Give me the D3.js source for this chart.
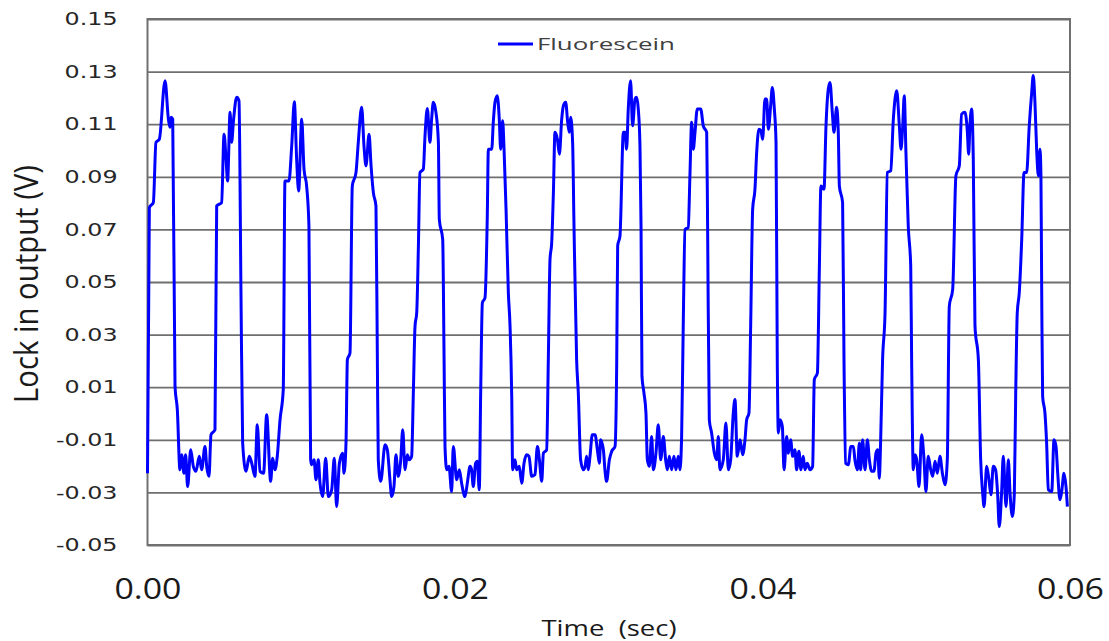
<!DOCTYPE html>
<html>
<head>
<meta charset="utf-8">
<script src="https://cdn.jsdelivr.net/npm/d3@7"></script>
<style>
  html, body { margin: 0; padding: 0; background: #ffffff; }
  svg { display: block; }
</style>
</head>
<body>
<svg id="chart" width="1109" height="641"></svg>
<script>
// Lock-in amplifier output for the fluorescein sample, sampled over 60 ms.
const seriesName = "Fluorescein";

// Sample times in milliseconds
const timeMs = [
  0.00, 0.12, 0.38, 0.55, 0.77, 1.14, 1.36, 1.46, 1.53, 1.64, 1.79, 1.94, 2.11, 2.22, 2.37, 2.48, 2.61, 2.81, 2.98, 3.15,
  3.37, 3.52, 3.74, 3.85, 4.00, 4.13, 4.39, 4.50, 4.82, 4.98, 5.11, 5.21, 5.37, 5.47, 5.60, 5.80, 5.95, 6.08, 6.19, 6.41,
  6.62, 6.78, 6.99, 7.14, 7.32, 7.55, 7.75, 8.01, 8.14, 8.29, 8.44, 8.62, 8.83, 8.94, 9.20, 9.38, 9.55, 9.70, 9.83, 10.03,
  10.18, 10.35, 10.50, 10.61, 10.68, 10.83, 10.96, 11.11, 11.22, 11.39, 11.59, 11.76, 11.98, 12.15, 12.30, 12.48, 12.69, 12.78, 12.91, 13.00,
  13.17, 13.32, 13.56, 13.71, 13.93, 14.08, 14.21, 14.41, 14.54, 14.69, 14.86, 14.95, 15.01, 15.17, 15.45, 15.60, 15.77, 15.88, 16.03, 16.16,
  16.31, 16.47, 16.60, 16.75, 16.90, 17.03, 17.18, 17.29, 17.40, 17.51, 17.62, 17.72, 17.94, 18.05, 18.20, 18.37, 18.48, 18.59, 18.76, 18.92,
  18.98, 19.20, 19.29, 19.35, 19.46, 19.61, 19.78, 19.89, 20.11, 20.28, 20.43, 20.65, 20.80, 20.98, 21.08, 21.19, 21.34, 21.45, 21.58, 21.67,
  21.78, 21.95, 22.10, 22.17, 22.39, 22.49, 22.60, 22.75, 22.88, 22.97, 23.10, 23.19, 23.32, 23.47, 23.58, 23.69, 23.75, 23.90, 24.01, 24.18,
  24.34, 24.49, 24.66, 24.81, 24.99, 25.20, 25.36, 25.49, 25.64, 25.75, 25.96, 26.07, 26.18, 26.29, 26.40, 26.50, 26.66, 26.79, 26.94, 27.05,
  27.20, 27.33, 27.44, 27.52, 27.65, 27.74, 27.91, 28.02, 28.17, 28.35, 28.46, 28.56, 28.67, 28.78, 28.93, 29.11, 29.26, 29.39, 29.47, 29.65,
  29.76, 29.86, 30.04, 30.19, 30.41, 30.52, 30.58, 30.73, 30.95, 31.06, 31.16, 31.27, 31.42, 31.55, 31.71, 31.81, 31.92, 32.03, 32.10, 32.16,
  32.29, 32.42, 32.51, 32.64, 32.79, 32.90, 33.07, 33.22, 33.38, 33.55, 33.70, 33.81, 33.94, 34.09, 34.24, 34.37, 34.52, 34.63, 34.74, 34.85,
  34.96, 35.17, 35.28, 35.39, 35.50, 35.61, 35.76, 35.98, 36.15, 36.37, 36.43, 36.54, 36.69, 36.87, 37.02, 37.13, 37.23, 37.45, 37.62, 37.78,
  37.93, 38.10, 38.21, 38.36, 38.54, 38.71, 38.86, 38.97, 39.12, 39.23, 39.36, 39.51, 39.62, 39.77, 39.90, 40.01, 40.16, 40.27, 40.38, 40.53,
  40.64, 40.77, 40.88, 40.96, 41.03, 41.14, 41.29, 41.40, 41.57, 41.68, 41.83, 41.96, 42.11, 42.22, 42.37, 42.50, 42.65, 42.76, 42.91, 43.09,
  43.26, 43.37, 43.57, 43.70, 43.80, 44.00, 44.13, 44.28, 44.39, 44.54, 44.65, 44.82, 44.93, 45.00, 45.21, 45.30, 45.41, 45.58, 45.75, 45.91,
  46.01, 46.17, 46.30, 46.38, 46.51, 46.67, 46.82, 46.95, 47.10, 47.25, 47.38, 47.49, 47.60, 47.68, 47.81, 47.97, 48.12, 48.34, 48.51, 48.73,
  48.90, 49.01, 49.12, 49.22, 49.33, 49.48, 49.64, 49.70, 49.81, 49.92, 50.03, 50.18, 50.35, 50.50, 50.63, 50.78, 50.94, 51.07, 51.22, 51.37,
  51.54, 51.70, 51.87, 52.02, 52.15, 52.37, 52.58, 52.80, 52.95, 53.17, 53.32, 53.41, 53.49, 53.60, 53.71, 53.82, 54.04, 54.19, 54.32, 54.41,
  54.58, 54.73, 54.86, 55.01, 55.16, 55.29, 55.40, 55.55, 55.66, 55.84, 55.99, 56.10, 56.25, 56.38, 56.47, 56.57, 56.70, 56.86, 57.01, 57.18,
  57.35, 57.51, 57.61, 57.72, 57.83, 57.94, 58.05, 58.11, 58.16, 58.22, 58.37, 58.48, 58.59, 58.81, 58.96, 59.09, 59.20, 59.35, 59.46, 59.61,
  59.74, 59.83
];

// Lock-in output in volts, one value per sample time
const lockIn = [
  -0.0227, 0.0783, 0.0802, 0.1031, 0.1043, 0.1265, 0.1119, 0.1088, 0.1126, 0.1119, 0.0103, 0.0015, -0.0214, -0.0157, -0.0227, -0.0157, -0.0278, -0.0138, -0.0201, -0.0220,
  -0.0163, -0.0214, -0.0125, -0.0201, -0.0239, -0.0081, -0.0062, 0.0789, 0.0802, 0.1062, 0.0967, 0.0884, 0.1145, 0.1031, 0.1119, 0.1202, 0.1189, 0.0459, -0.0113, -0.0220,
  -0.0163, -0.0189, -0.0239, -0.0043, -0.0220, -0.0227, -0.0005, -0.0258, -0.0170, -0.0214, -0.0163, -0.0024, 0.0091, 0.0884, 0.0884, 0.1018, 0.1185, 0.0967, 0.0846, 0.1119,
  0.0929, 0.0865, 0.0713, -0.0176, -0.0195, -0.0176, -0.0252, -0.0176, -0.0265, -0.0316, -0.0170, -0.0316, -0.0290, -0.0170, -0.0354, -0.0189, -0.0151, -0.0227, -0.0113, 0.0205,
  0.0230, 0.0865, 0.0916, 0.1031, 0.1164, 0.1018, 0.0942, 0.1062, 0.0942, 0.0840, 0.0789, 0.0205, -0.0176, -0.0258, -0.0119, -0.0138, -0.0252, -0.0316, -0.0278, -0.0157,
  -0.0239, -0.0176, -0.0062, -0.0214, -0.0157, -0.0176, -0.0163, 0.0078, 0.0332, 0.0383, 0.0637, 0.0916, 0.0929, 0.1056, 0.1160, 0.1031, 0.1119, 0.1183, 0.1145, 0.1031,
  0.0738, 0.0662, 0.0205, -0.0125, -0.0214, -0.0201, -0.0297, -0.0125, -0.0252, -0.0214, -0.0265, -0.0316, -0.0265, -0.0201, -0.0214, -0.0278, -0.0189, -0.0182, -0.0290, 0.0078,
  0.0421, 0.0440, 0.0751, 0.1005, 0.1005, 0.1107, 0.1183, 0.1208, 0.1119, 0.1005, 0.1113, 0.1005, 0.0777, 0.0459, 0.0332, 0.0065, -0.0214, -0.0176, -0.0214, -0.0201,
  -0.0265, -0.0189, -0.0157, -0.0163, -0.0239, -0.0233, -0.0125, -0.0176, -0.0258, -0.0151, -0.0138, 0.0205, 0.0586, 0.0650, 0.0840, 0.1069, 0.1043, 0.0986, 0.1119, 0.1170,
  0.1183, 0.1107, 0.1069, 0.1126, 0.1031, 0.0713, 0.0205, 0.0078, -0.0176, -0.0214, -0.0201, -0.0163, -0.0214, -0.0163, -0.0081, -0.0081, -0.0138, -0.0189, -0.0100, -0.0138,
  -0.0220, -0.0258, -0.0176, -0.0144, -0.0125, 0.0205, 0.0637, 0.0675, 0.1069, 0.1069, 0.1005, 0.1158, 0.1265, 0.1094, 0.1196, 0.1202, 0.1158, 0.1018, 0.0713, 0.0142,
  0.0078, 0.0002, -0.0176, -0.0201, -0.0087, -0.0214, -0.0151, -0.0043, -0.0176, -0.0087, -0.0176, -0.0214, -0.0163, -0.0214, -0.0163, -0.0214, -0.0163, -0.0214, -0.0087, 0.0357,
  0.0700, 0.0707, 0.0904, 0.1107, 0.1005, 0.1069, 0.1158, 0.1158, 0.1094, 0.1069, 0.0713, -0.0024, -0.0074, -0.0151, -0.0176, -0.0087, -0.0214, -0.0176, -0.0036, -0.0214,
  -0.0176, 0.0002, 0.0053, -0.0163, -0.0100, -0.0157, -0.0100, -0.0024, 0.0002, 0.0332, 0.0777, 0.0853, 0.0992, 0.1081, 0.1075, 0.1043, 0.1196, 0.1196, 0.1081, 0.1170,
  0.1240, 0.1158, 0.1031, 0.0205, -0.0074, -0.0024, -0.0049, -0.0214, -0.0087, -0.0151, -0.0100, -0.0163, -0.0138, -0.0214, -0.0144, -0.0214, -0.0163, -0.0214, -0.0189, -0.0214,
  -0.0201, 0.0129, 0.0154, 0.0561, 0.0865, 0.0853, 0.1094, 0.1234, 0.1259, 0.1145, 0.1069, 0.1164, 0.1069, 0.0865, 0.0802, 0.0205, -0.0189, -0.0195, -0.0125, -0.0125,
  -0.0176, -0.0214, -0.0113, -0.0214, -0.0100, -0.0214, -0.0100, -0.0176, -0.0220, -0.0220, -0.0151, -0.0138, -0.0246, -0.0113, 0.0205, 0.0383, 0.0916, 0.0923, 0.1119, 0.1227,
  0.1094, 0.1005, 0.1094, 0.1208, 0.0992, 0.0713, 0.0561, 0.0205, -0.0214, -0.0157, -0.0176, -0.0278, -0.0081, -0.0170, -0.0297, -0.0163, -0.0214, -0.0239, -0.0182, -0.0227,
  -0.0163, -0.0227, -0.0271, -0.0176, 0.0408, 0.0472, 0.0904, 0.0942, 0.1138, 0.1145, 0.1075, 0.0986, 0.1094, 0.1158, 0.0967, 0.0332, 0.0205, -0.0176, -0.0303, -0.0354,
  -0.0201, -0.0252, -0.0309, -0.0201, -0.0214, -0.0303, -0.0430, -0.0303, -0.0163, -0.0354, -0.0176, -0.0303, -0.0392, -0.0303, 0.0078, 0.0383, 0.0459, 0.0662, 0.0916, 0.0916,
  0.1094, 0.1221, 0.1285, 0.1183, 0.1005, 0.0904, 0.1005, 0.0904, 0.0459, 0.0065, 0.0002, -0.0113, -0.0290, -0.0297, -0.0100, -0.0125, -0.0227, -0.0328, -0.0297, -0.0227,
  -0.0278, -0.0354
];

// Axis ticks
const xTicks = [0, 0.02, 0.04, 0.06];
const yTicks = [-0.05, -0.03, -0.01, 0.01, 0.03, 0.05, 0.07, 0.09, 0.11, 0.13, 0.15];
const xTitle = "Time  (sec)";
const yTitle = "Lock in output (V)";

const data = timeMs.map((t, i) => ({ t: t / 1000, v: lockIn[i] }));

const svg = d3.select("#chart");
const plot = { left: 147.5, right: 1070, top: 19, bottom: 545 };

const x = d3.scaleLinear().domain([0, 0.06]).range([plot.left, plot.right]);
const y = d3.scaleLinear().domain([-0.05, 0.15]).range([plot.bottom, plot.top]);

// Two-decimal labels with a plain hyphen for negatives
const fmt2 = d => d.toFixed(2);

// Widen glyphs horizontally to the wide lettering of the figure
function widen(sel, factor) {
  sel.each(function () {
    const n = this.getComputedTextLength();
    this.setAttribute("textLength", (n * factor).toFixed(1));
    this.setAttribute("lengthAdjust", "spacingAndGlyphs");
  });
}

// Horizontal gridlines
const grid = svg.append("g")
  .attr("transform", `translate(${plot.left},0)`)
  .call(d3.axisLeft(y).tickValues(yTicks).tickSize(-(plot.right - plot.left)).tickFormat(""));
grid.select(".domain").remove();
grid.selectAll("line").attr("stroke", "#6f6f6f").attr("stroke-width", 1.8);

// Plot frame
svg.append("rect")
  .attr("x", plot.left).attr("y", plot.top)
  .attr("width", plot.right - plot.left).attr("height", plot.bottom - plot.top)
  .attr("fill", "none").attr("stroke", "#707070").attr("stroke-width", 2);

// Y tick labels
const yAxis = svg.append("g")
  .attr("transform", `translate(${plot.left},0)`)
  .call(d3.axisLeft(y).tickValues(yTicks).tickSize(0).tickPadding(30).tickFormat(fmt2));
yAxis.select(".domain").remove();
yAxis.selectAll("text")
  .attr("font-family", "DejaVu Sans")
  .attr("font-size", 18)
  .attr("fill", "#262626");
widen(yAxis.selectAll("text"), 1.32);

// X tick labels
const xAxis = svg.append("g")
  .attr("transform", `translate(0,${plot.bottom})`)
  .call(d3.axisBottom(x).tickValues(xTicks).tickSize(0).tickPadding(0).tickFormat(fmt2));
xAxis.select(".domain").remove();
xAxis.selectAll("text")
  .attr("y", 54).attr("dy", null)
  .attr("font-family", "Open Sans")
  .attr("font-size", 29)
  .attr("fill", "#1a1a1a")
  .attr("textLength", 67)
  .attr("lengthAdjust", "spacingAndGlyphs");

// Axis titles
svg.append("text")
  .attr("x", 609).attr("y", 636)
  .attr("text-anchor", "middle")
  .attr("font-family", "Open Sans").attr("font-size", 22).attr("fill", "#1a1a1a")
  .attr("xml:space", "preserve")
  .attr("textLength", 135).attr("lengthAdjust", "spacingAndGlyphs")
  .text(xTitle);

svg.append("text")
  .attr("transform", "translate(38,284) rotate(-90)")
  .attr("text-anchor", "middle")
  .attr("font-family", "Open Sans").attr("font-size", 32).attr("fill", "#1a1a1a")
  .attr("textLength", 238).attr("lengthAdjust", "spacingAndGlyphs")
  .text(yTitle);

// Series line
svg.append("clipPath").attr("id", "plot-clip")
  .append("rect")
  .attr("x", plot.left - 2).attr("y", plot.top)
  .attr("width", plot.right - plot.left + 4).attr("height", plot.bottom - plot.top);

const line = d3.line()
  .x(d => x(d.t))
  .y(d => y(d.v))
  .curve(d3.curveMonotoneX);

svg.append("path")
  .datum(data)
  .attr("clip-path", "url(#plot-clip)")
  .attr("fill", "none")
  .attr("stroke", "#0000ff")
  .attr("stroke-width", 3)
  .attr("stroke-linejoin", "round")
  .attr("d", line);

// Legend
const legend = svg.append("g").attr("transform", "translate(498,44)");
legend.append("line")
  .attr("x1", 0).attr("x2", 35).attr("y1", 0).attr("y2", 0)
  .attr("stroke", "#0000ff").attr("stroke-width", 3);
legend.append("text")
  .attr("x", 39).attr("y", 5.5)
  .attr("font-family", "Open Sans").attr("font-size", 17).attr("fill", "#404040")
  .attr("textLength", 138).attr("lengthAdjust", "spacingAndGlyphs")
  .text(seriesName);
</script>
</body>
</html>
